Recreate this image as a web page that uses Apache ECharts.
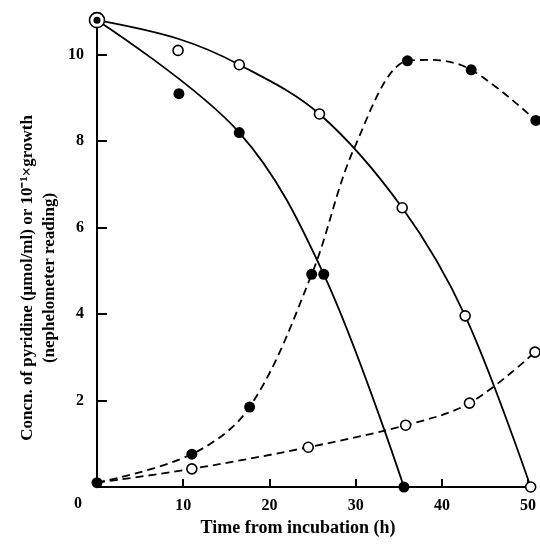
<!DOCTYPE html>
<html>
<head>
<meta charset="utf-8">
<script src="https://cdn.jsdelivr.net/npm/echarts@6/dist/echarts.min.js"></script>
<style>
  html, body { margin: 0; padding: 0; background: #fff; }
  #chart { width: 540px; height: 545px; }
</style>
</head>
<body>
<div id="chart"></div>
<script>
// measured points, [time h, value]
var pyridineOpen = [[9.4, 10.1], [16.5, 9.77], [25.8, 8.63], [35.4, 6.46], [42.7, 3.96], [50.3, 0]];
var pyridineFilled = [[9.5, 9.1], [16.5, 8.2], [26.3, 4.92], [35.6, 0]];
var growthFilled = [[0, 0.1], [11, 0.76], [17.7, 1.85], [24.9, 4.92], [36, 9.86], [43.4, 9.65], [50.9, 8.48]];
var growthOpen = [[11, 0.42], [24.5, 0.92], [35.8, 1.43], [43.2, 1.94], [50.8, 3.12]];
var startPoint = [[0, 10.8]];

// fitted curves
var pyridineOpenCurve = [[0, 10.8], [9.4, 10.37], [16.5, 9.77], [25.8, 8.63], [35.4, 6.46], [42.7, 3.96], [50.3, 0]];
var pyridineFilledCurve = [[0, 10.8], [16.5, 8.2], [26.3, 4.92], [35.6, 0]];
var growthFilledCurve = [[0, 0.1], [11, 0.76], [17.7, 1.85], [24.9, 4.92], [29.9, 7.87], [36, 9.86], [38.6, 9.88], [43.4, 9.65], [50.9, 8.48]];
var growthOpenCurve = [[0, 0.1], [11, 0.42], [24.5, 0.92], [35.8, 1.43], [43.2, 1.94], [50.8, 3.12]];

var xTicks = [10, 20, 30, 40, 50];
var yTicks = [2, 4, 6, 8, 10];

var serif = 'Liberation Serif';
var chart = echarts.init(document.getElementById('chart'));

function curve(data, dashed) {
    return {
        type: 'line',
        data: data,
        smooth: 0.35,
        showSymbol: false,
        silent: true,
        clip: false,
        z: 2,
        lineStyle: { color: '#000', width: 1.8, type: dashed ? [8, 5] : 'solid' }
    };
}

function dots(data, filled, size) {
    return {
        type: 'scatter',
        data: data,
        symbol: 'circle',
        symbolSize: size,
        clip: false,
        z: 5,
        itemStyle: filled
            ? { color: '#000', opacity: 1 }
            : { color: '#fff', borderColor: '#000', borderWidth: 1.6, opacity: 1 }
    };
}

var option = {
    animation: false,
    backgroundColor: '#fff',
    grid: { left: 97, right: 5, top: 18, bottom: 58 },
    xAxis: {
        type: 'value',
        min: 0,
        max: 50.8,
        axisLine: { lineStyle: { color: '#000', width: 2 } },
        axisTick: { inside: true, length: 8, customValues: xTicks, lineStyle: { color: '#000', width: 2 } },
        axisLabel: {
            customValues: xTicks,
            color: '#000', fontFamily: serif, fontWeight: 'bold', fontSize: 16, margin: 11
        },
        splitLine: { show: false }
    },
    yAxis: {
        type: 'value',
        min: 0,
        max: 10.85,
        axisLine: { show: true, lineStyle: { color: '#000', width: 2 } },
        axisTick: { show: true, inside: true, length: 10, customValues: yTicks, lineStyle: { color: '#000', width: 2 } },
        axisLabel: {
            customValues: yTicks,
            color: '#000', fontFamily: serif, fontWeight: 'bold', fontSize: 16, margin: 13
        },
        splitLine: { show: false }
    },
    graphic: [
        {
            type: 'text', left: 74, top: 496,
            style: { text: '0', fill: '#000', font: 'bold 16px "Liberation Serif"' }
        },
        {
            type: 'text', x: 39, y: 278, rotation: Math.PI / 2,
            style: {
                text: 'Concn. of pyridine (\u03bcmol/ml) or 10\u207b\u00b9\u00d7growth\n(nephelometer reading)',
                fill: '#000', font: 'bold 17px "Liberation Serif"',
                align: 'center', verticalAlign: 'middle', lineHeight: 22
            }
        },
        {
            type: 'text', x: 298, y: 528,
            style: {
                text: 'Time from incubation (h)',
                fill: '#000', font: 'bold 18px "Liberation Serif"',
                align: 'center', verticalAlign: 'middle'
            }
        }
    ],
    series: [
        curve(pyridineOpenCurve, false),
        curve(pyridineFilledCurve, false),
        curve(growthFilledCurve, true),
        curve(growthOpenCurve, true),
        dots(pyridineOpen, false, 10),
        dots(pyridineFilled, true, 11),
        dots(growthFilled, true, 11),
        dots(growthOpen, false, 10),
        dots(startPoint, false, 15),
        dots(startPoint, true, 7)
    ]
};

chart.setOption(option);
</script>
</body>
</html>
